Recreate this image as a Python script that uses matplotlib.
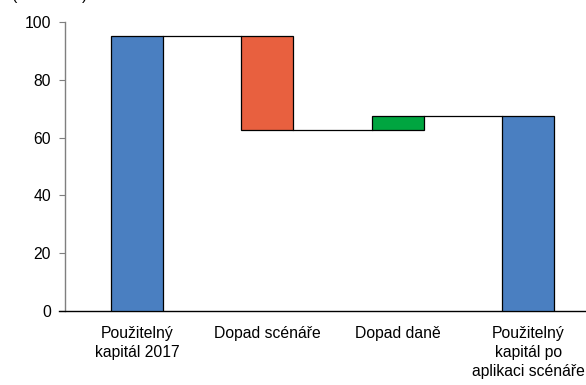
import matplotlib
matplotlib.use("Agg")
import matplotlib.pyplot as plt

plt.rcParams['font.family'] = ['Liberation Sans', 'DejaVu Sans']

# waterfall data (mld. Kc)
categories = ["Použitelný\nkapitál 2017", "Dopad scénáře", "Dopad daně",
              "Použitelný\nkapitál po\naplikaci scénáře"]
start_value = 95.3
changes = [-32.7, 4.7]
colors = ["#4a7fc1", "#e8603f", "#00a540", "#4a7fc1"]
yticks = [0, 20, 40, 60, 80, 100]

# build bottoms / heights
end_value = start_value + sum(changes)
bottoms = [0]
heights = [start_value]
level = start_value
for c in changes:
    new_level = level + c
    bottoms.append(min(level, new_level))
    heights.append(abs(c))
    level = new_level
bottoms.append(0)
heights.append(end_value)
levels = [start_value, start_value + changes[0], end_value]

fig = plt.figure(figsize=(5.86, 3.85), dpi=100)
ax = fig.add_axes([0.111, 0.192, 0.913, 0.751])

x = list(range(len(categories)))
w = 0.4
ax.bar(x, heights, bottom=bottoms, width=w, color=colors,
       edgecolor="black", linewidth=0.9, zorder=3)

# connectors
for i, lv in enumerate(levels):
    ax.plot([x[i] + w / 2, x[i + 1] - w / 2], [lv, lv], color="black",
            linewidth=0.9, zorder=2)

ax.set_xlim(-0.552, 3.552)
ax.set_ylim(0, 100)
ax.set_yticks(yticks)
ax.set_xticks(x)
ax.set_xticklabels(categories, fontsize=11.3, linespacing=1.32)
ax.tick_params(axis="x", length=0, pad=11)
ax.tick_params(axis="y", direction="out", length=4, color="#7f7f7f",
               labelsize=11.3, pad=6)

for s in ["top", "right"]:
    ax.spines[s].set_visible(False)
ax.spines["left"].set_color("#7f7f7f")
ax.spines["left"].set_linewidth(1.0)
ax.spines["bottom"].set_color("black")
ax.spines["bottom"].set_linewidth(1.0)
ax.spines["bottom"].set_bounds(-0.6, 3.6)
ax.spines["bottom"].set_clip_on(False)

fig.text(0.02, 1.0 + 5 / 385, "(v mld. Kč)", fontsize=11.3, va="center", ha="left")

fig.savefig("out.png", dpi=100)
